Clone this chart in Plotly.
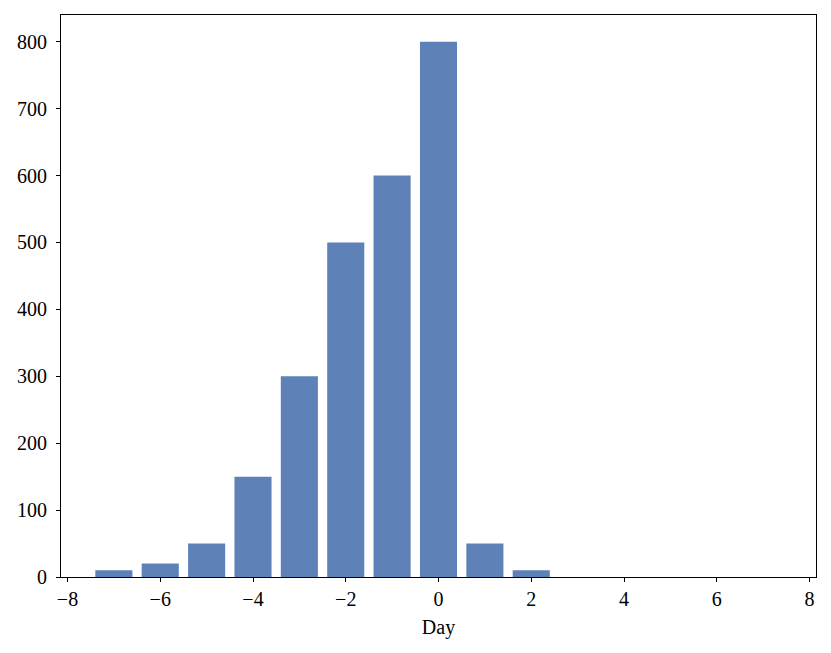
import plotly.graph_objects as go

days = [-7, -6, -5, -4, -3, -2, -1, 0, 1, 2, 3, 4, 5, 6, 7]
counts = [10, 20, 50, 150, 300, 500, 600, 800, 50, 10, 0, 0, 0, 0, 0]
x_ticks = [-8, -6, -4, -2, 0, 2, 4, 6, 8]
x_tick_labels = ["\u22128", "\u22126", "\u22124", "\u22122", "0", "2", "4", "6", "8"]
y_ticks = [0, 100, 200, 300, 400, 500, 600, 700, 800]

bar_color = "rgb(94,130,183)"

trace = go.Bar(
    x=days,
    y=counts,
    width=0.8,
    marker=dict(color=bar_color, line=dict(width=0)))

# the page body has an 8px margin, so the figure is sized and offset for it
layout = go.Layout(
    width=823,
    height=645,
    margin=dict(l=53, r=15, t=7, b=76),
    plot_bgcolor="white",
    paper_bgcolor="white",
    font=dict(family="Liberation Serif", size=20, color="black"),
    showlegend=False,
    xaxis=dict(
        range=[-8.14, 8.14],
        tickvals=x_ticks,
        ticktext=x_tick_labels,
        ticks="outside",
        ticklen=4,
        tickwidth=1.2,
        tickcolor="black",
        showline=True,
        linecolor="black",
        linewidth=1.2,
        mirror=True,
        showgrid=False,
        zeroline=False,
        title=dict(text="Day", font=dict(size=20), standoff=10)),
    yaxis=dict(
        range=[0, 840],
        tickvals=y_ticks,
        ticks="outside",
        ticklen=4,
        tickwidth=1.2,
        tickcolor="black",
        ticklabelstandoff=5,
        showline=True,
        linecolor="black",
        linewidth=1.2,
        mirror=True,
        showgrid=False,
        zeroline=False))

fig = go.Figure(data=[trace], layout=layout)
fig.write_html("out.html")
